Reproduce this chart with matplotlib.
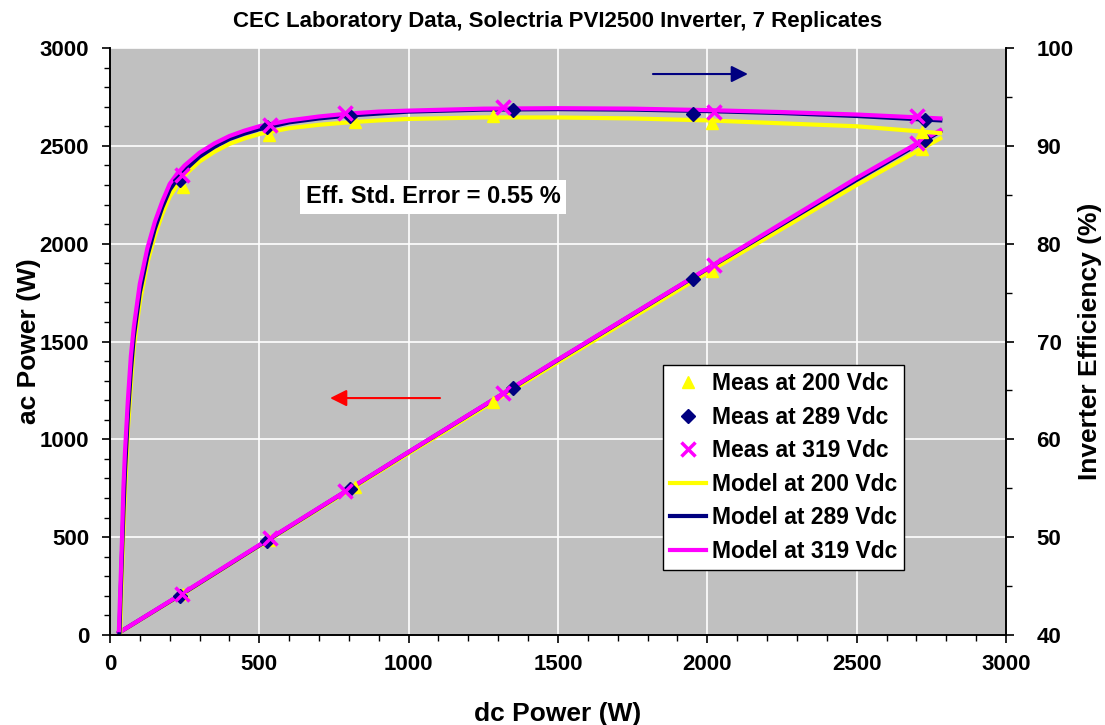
import matplotlib
matplotlib.use('Agg')
import matplotlib.pyplot as plt
from matplotlib.ticker import MultipleLocator

plt.rcParams['font.family'] = ['Liberation Sans', 'DejaVu Sans']
plt.rcParams['font.weight'] = 'bold'

# Measured points (dc power W, ac power W, efficiency %)
dc_200 = [244, 532, 820, 1282, 2016, 2719]
ac_200 = [209, 485, 758, 1192, 1861, 2485]
eff_200 = [85.8, 91.1, 92.4, 93.0, 92.3, 91.4]

dc_289 = [234, 526, 804, 1349, 1952, 2729]
ac_289 = [202, 483, 748, 1264, 1821, 2528]
eff_289 = [86.5, 91.9, 93.0, 93.7, 93.3, 92.6]

dc_319 = [241, 536, 787, 1316, 2022, 2702]
ac_319 = [210, 494, 735, 1237, 1890, 2513]
eff_319 = [87.0, 92.1, 93.4, 94.0, 93.5, 93.0]

# Model curves
dc_model = [30, 35, 40, 45, 50, 60, 70, 80, 100, 125, 150, 175, 200, 225, 250,
            300, 350, 400, 450, 500, 600, 700, 800, 900, 1000, 1250, 1500,
            1750, 2000, 2250, 2500, 2780]
eff_model_200 = [36, 41, 46, 50.5, 54.5, 61, 65.5, 69.5, 74, 78, 80.8, 83.0,
                 84.8, 86.0, 87, 88.4, 89.4, 90.2, 90.75, 91.2, 91.8, 92.15,
                 92.4, 92.6, 92.75, 92.9, 92.9, 92.8, 92.6, 92.3, 92.0, 91.3]
eff_model_289 = [38.5, 43.5, 48, 52.5, 56.5, 62.5, 67, 70.5, 75, 78.7, 81.5,
                 83.7, 85.5, 86.6, 87.5, 88.9, 89.9, 90.7, 91.25, 91.7, 92.4,
                 92.8, 93.1, 93.3, 93.5, 93.7, 93.75, 93.7, 93.55, 93.35,
                 93.05, 92.6]
eff_model_319 = [40.5, 45, 49.5, 55, 58.5, 64, 68.5, 71.5, 75.9, 79.5, 82.2,
                 84.3, 86.1, 87.15, 88, 89.3, 90.25, 91, 91.55, 92, 92.6, 93.0,
                 93.3, 93.5, 93.6, 93.8, 93.85, 93.8, 93.65, 93.45, 93.2, 92.8]

dc_ac_model = [30, 250, 500, 1000, 1500, 2000, 2500, 2780]
ac_model_200 = [11, 216, 456, 928, 1394, 1852, 2300, 2538]
ac_model_289 = [12, 218, 458, 935, 1406, 1871, 2326, 2574]
ac_model_319 = [12, 220, 460, 936, 1408, 1873, 2336, 2580]

yellow, navy, magenta = '#FFFF00', '#000080', '#FF00FF'

fig = plt.figure(figsize=(11.05, 7.25), dpi=100)
ax = fig.add_axes([0.0995, 0.1241, 0.8109, 0.8097])
ax.set_facecolor('#C0C0C0')
ax2 = ax.twinx()

# ac power on the left axis
ax.plot(dc_ac_model, ac_model_200, color=yellow, lw=3, zorder=2)
ax.plot(dc_ac_model, ac_model_289, color=navy, lw=3, zorder=2)
ax.plot(dc_ac_model, ac_model_319, color=magenta, lw=3, zorder=2)
ax.plot(dc_200, ac_200, '^', color=yellow, ms=9, zorder=3)
ax.plot(dc_289, ac_289, 'D', color=navy, ms=7, zorder=3)
ax.plot(dc_319, ac_319, 'x', color=magenta, ms=10, mew=2.5, zorder=3)

# efficiency on the right axis
l1, = ax2.plot(dc_model, eff_model_200, color=yellow, lw=3)
l2, = ax2.plot(dc_model, eff_model_289, color=navy, lw=3)
l3, = ax2.plot(dc_model, eff_model_319, color=magenta, lw=3)
m1, = ax2.plot(dc_200, eff_200, '^', color=yellow, ms=9, ls='none')
m2, = ax2.plot(dc_289, eff_289, 'D', color=navy, ms=7, ls='none')
m3, = ax2.plot(dc_319, eff_319, 'x', color=magenta, ms=10, mew=2.5, ls='none')

ax.set_xlim(0, 3000)
ax.set_ylim(0, 3000)
ax2.set_ylim(40, 100)
ax.xaxis.set_major_locator(MultipleLocator(500))
ax.xaxis.set_minor_locator(MultipleLocator(100))
ax.yaxis.set_major_locator(MultipleLocator(500))
ax.yaxis.set_minor_locator(MultipleLocator(100))
ax2.yaxis.set_major_locator(MultipleLocator(10))
ax2.yaxis.set_minor_locator(MultipleLocator(5))
ax.grid(True, which='major', color='white', lw=1.2)
ax.set_axisbelow(True)
for a in (ax, ax2):
    a.tick_params(which='major', direction='out', length=6, width=1.2, labelsize=16)
    a.tick_params(which='minor', direction='out', length=4, width=1)
    for s in a.spines.values():
        s.set_linewidth(1.2)
ax.tick_params(axis='y', which='major', pad=9)
ax.tick_params(axis='x', which='major', pad=8)
ax2.tick_params(axis='y', which='major', pad=16)
ax.spines['top'].set_visible(False)
ax2.spines['top'].set_visible(False)

ax.set_xlabel('dc Power (W)', fontsize=19, fontweight='bold')
ax.set_ylabel('ac Power (W)', fontsize=19, fontweight='bold')
ax2.set_ylabel('Inverter Efficiency (%)', fontsize=19, fontweight='bold')
ax.xaxis.set_label_coords(0.5, -0.114)
ax.yaxis.set_label_coords(-0.077, 0.5)
ax2.yaxis.set_label_coords(1.08, 0.5)
ax.set_title('CEC Laboratory Data, Solectria PVI2500 Inverter, 7 Replicates',
             fontsize=16, fontweight='bold', pad=15)

ax.text(655, 2240, 'Eff. Std. Error = 0.55 %', fontsize=17, fontweight='bold',
        va='center', ha='left',
        bbox=dict(facecolor='white', edgecolor='none', pad=4))

ax.annotate('', xy=(2136, 2867), xytext=(1818, 2867),
            arrowprops=dict(arrowstyle='-|>', color=navy, lw=1.5,
                            mutation_scale=25, shrinkA=0, shrinkB=0))
ax.annotate('', xy=(737, 1211), xytext=(1105, 1211),
            arrowprops=dict(arrowstyle='-|>', color='red', lw=1.5,
                            mutation_scale=25, shrinkA=0, shrinkB=0))

leg = ax2.legend([m1, m2, m3, l1, l2, l3],
                 ['Meas at 200 Vdc', 'Meas at 289 Vdc', 'Meas at 319 Vdc',
                  'Model at 200 Vdc', 'Model at 289 Vdc', 'Model at 319 Vdc'],
                 loc='lower left', bbox_to_anchor=(0.617, 0.111),
                 prop={'size': 16.5, 'weight': 'bold'}, fancybox=False,
                 framealpha=1, edgecolor='black', borderaxespad=0,
                 handlelength=1.6, labelspacing=0.46, borderpad=0.3,
                 handletextpad=0.25)
leg.get_frame().set_linewidth(1)

fig.savefig('out.png', dpi=100)
